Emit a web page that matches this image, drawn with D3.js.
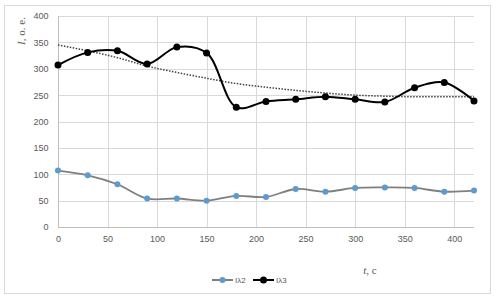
<!DOCTYPE html>
<html lang="uk">
<head>
<meta charset="UTF-8">
<title>I(t)</title>
<script src="https://d3js.org/d3.v7.min.js"></script>
<style>
  body { margin: 0; background: #fff; }
  svg text { font-family: "Liberation Sans", Arial, sans-serif; }
</style>
</head>
<body>
<div id="chart"></div>
<script>
// time, s
const times = [0, 30, 60, 90, 120, 150, 180, 210, 240, 270, 300, 330, 360, 390, 420];
// I lambda 2
const seriesL2 = [107, 98, 81, 54, 54, 50, 59, 57, 72, 67, 74, 75, 74, 67, 69];
// I lambda 3
const seriesL3 = [307, 331, 334, 309, 341, 330, 227, 238, 242, 247, 242, 237, 264, 274, 239];
// trend line for I lambda 3
const trendL3 = [345, 334, 321, 305, 293, 282, 272, 265, 259, 254, 250, 248, 247, 247, 247];
const xTicks = [0, 50, 100, 150, 200, 250, 300, 350, 400];
const yTicks = [0, 50, 100, 150, 200, 250, 300, 350, 400];

const width = 497, height = 300;
const margin = { left: 58, right: 23, top: 16, bottom: 73 };

const svg = d3.select("#chart").append("svg")
  .attr("width", width)
  .attr("height", height);

// outer frame
svg.append("rect")
  .attr("x", 4.5).attr("y", 5.5)
  .attr("width", 486).attr("height", 288)
  .attr("fill", "none")
  .attr("stroke", "#d9d9d9");

const x = d3.scaleLinear().domain([0, 420]).range([margin.left, width - margin.right]);
const y = d3.scaleLinear().domain([0, 400]).range([height - margin.bottom, margin.top]);

// grid
svg.append("g")
  .selectAll("line")
  .data(yTicks.slice(1))
  .join("line")
  .attr("x1", x(0)).attr("x2", x(420))
  .attr("y1", d => Math.round(y(d)) + 0.5).attr("y2", d => Math.round(y(d)) + 0.5)
  .attr("stroke", "#d9d9d9");
svg.append("g")
  .selectAll("line")
  .data(xTicks.slice(1))
  .join("line")
  .attr("x1", d => Math.round(x(d)) + 0.5).attr("x2", d => Math.round(x(d)) + 0.5)
  .attr("y1", y(0)).attr("y2", y(400))
  .attr("stroke", "#d9d9d9");

// axes
const xAxis = svg.append("g")
  .attr("transform", `translate(0,${Math.round(y(0)) + 0.5})`)
  .call(d3.axisBottom(x).tickValues(xTicks).tickSize(0).tickPadding(8));
const yAxis = svg.append("g")
  .attr("transform", `translate(${Math.round(x(0)) + 0.5},0)`)
  .call(d3.axisLeft(y).tickValues(yTicks).tickSize(0).tickPadding(10));
[xAxis, yAxis].forEach(g => {
  g.select(".domain").attr("stroke", "#bfbfbf");
  g.selectAll("text").attr("fill", "#595959").attr("font-size", 9);
});
yAxis.select(".domain").attr("d", `M0,${y(0)}V${y(400)}`);
xAxis.select(".domain").attr("d", `M${x(0)},0H${x(420)}`);

// axis titles
const yTitle = svg.append("text")
  .attr("transform", "translate(25,31) rotate(-90)")
  .attr("text-anchor", "middle")
  .attr("fill", "#595959")
  .attr("font-size", 11)
  .style("font-family", "'Liberation Serif', serif");
yTitle.append("tspan").attr("font-style", "italic").text("I");
yTitle.append("tspan").text(", o. e.");

const xTitle = svg.append("text")
  .attr("x", 370).attr("y", 274)
  .attr("text-anchor", "middle")
  .attr("fill", "#595959")
  .attr("font-size", 11)
  .style("font-family", "'Liberation Serif', serif");
xTitle.append("tspan").attr("font-style", "italic").text("t");
xTitle.append("tspan").text(", c");

// trend (dotted)
svg.append("path")
  .datum(times.map((t, i) => [t, trendL3[i]]))
  .attr("fill", "none")
  .attr("stroke", "#404040")
  .attr("stroke-width", 1.5)
  .attr("stroke-dasharray", "1.5 1.5")
  .attr("d", d3.line().x(d => x(d[0])).y(d => y(d[1])).curve(d3.curveMonotoneX));

// lines
const smooth = d3.line().x(d => x(d[0])).y(d => y(d[1])).curve(d3.curveCatmullRom.alpha(0.5));

const l2 = times.map((t, i) => [t, seriesL2[i]]);
const l3 = times.map((t, i) => [t, seriesL3[i]]);

svg.append("path").datum(l2)
  .attr("fill", "none").attr("stroke", "#7f7f7f").attr("stroke-width", 1.8)
  .attr("d", smooth);
svg.append("g").selectAll("circle").data(l2).join("circle")
  .attr("cx", d => x(d[0])).attr("cy", d => y(d[1])).attr("r", 3)
  .attr("fill", "#5b9bd5");

svg.append("path").datum(l3)
  .attr("fill", "none").attr("stroke", "#000").attr("stroke-width", 2)
  .attr("d", smooth);
svg.append("g").selectAll("circle").data(l3).join("circle")
  .attr("cx", d => x(d[0])).attr("cy", d => y(d[1])).attr("r", 3.5)
  .attr("fill", "#000");

// legend
const legend = [
  { name: "I\u03bb2", line: "#7f7f7f", dot: "#5b9bd5", r: 3, x: 212 },
  { name: "I\u03bb3", line: "#000", dot: "#000", r: 3.5, x: 253 }
];
const lg = svg.append("g").selectAll("g").data(legend).join("g")
  .attr("transform", d => `translate(${d.x},280)`);
lg.append("line").attr("x1", 0).attr("x2", 21)
  .attr("stroke", d => d.line).attr("stroke-width", 2);
lg.append("circle").attr("cx", 10.5).attr("r", d => d.r).attr("fill", d => d.dot);
lg.append("text").attr("x", 23).attr("y", 3)
  .attr("font-size", 8).attr("fill", "#595959")
  .text(d => d.name);
</script>
</body>
</html>
